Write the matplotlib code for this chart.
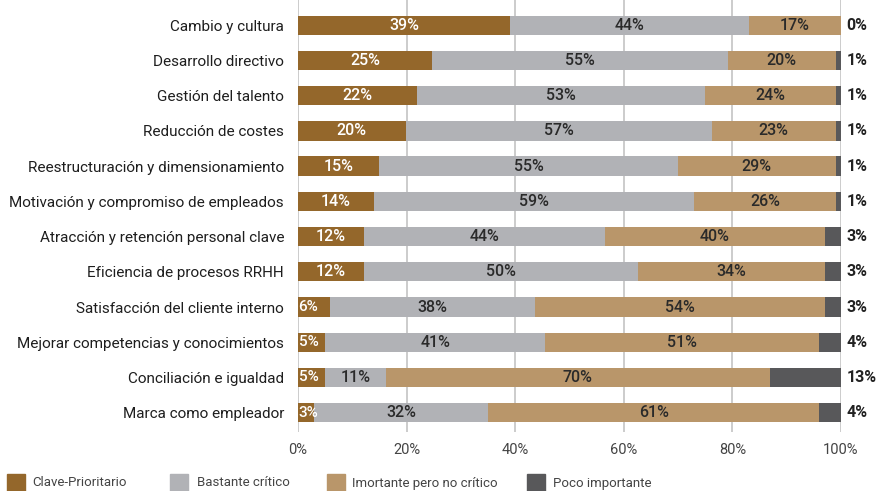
import numpy as np
import matplotlib.pyplot as plt
from matplotlib.patches import Rectangle

plt.rcParams['font.family'] = ['Roboto', 'DejaVu Sans']

categorias = ['Cambio y cultura', 'Desarrollo directivo', 'Gestión del talento',
              'Reducción de costes', 'Reestructuración y dimensionamiento',
              'Motivación y compromiso de empleados', 'Atracción y retención personal clave',
              'Eficiencia de procesos RRHH', 'Satisfacción del cliente interno',
              'Mejorar competencias y conocimientos', 'Conciliación e igualdad',
              'Marca como empleador']

clave      = [39, 25, 22, 20, 15, 14, 12, 12, 6, 5, 5, 3]
bastante   = [44, 55, 53, 57, 55, 59, 44, 50, 38, 41, 11, 32]
importante = [17, 20, 24, 23, 29, 26, 40, 34, 54, 51, 70, 61]
poco       = [0, 1, 1, 1, 1, 1, 3, 3, 3, 4, 13, 4]

series  = ['Clave-Prioritario', 'Bastante crítico', 'Imortante pero no crítico', 'Poco importante']
colores = ['#94672B', '#B1B2B6', '#B9966A', '#58585A']
texto   = ['white', '#2A2A2A', '#2A2A2A', None]

fig = plt.figure(figsize=(8.78, 4.91), dpi=100)
ax = fig.add_axes([298 / 878, 1 - 432 / 491, 543 / 878, 432 / 491])

datos = np.array([clave, bastante, importante, poco], dtype=float)
norm  = datos / datos.sum(axis=0) * 100
y = np.arange(len(categorias))

izq = np.zeros(len(categorias))
for i in range(4):
    ax.barh(y, norm[i], left=izq, height=0.55, color=colores[i], zorder=3)
    if texto[i] is not None:
        for j in range(len(categorias)):
            v = datos[i, j]
            if v < 7:
                ax.text(izq[j] + 0.1, y[j], f'{v:.0f}%', ha='left', va='center',
                        color=texto[i], fontsize=11, fontweight='medium', zorder=4)
            else:
                ax.text(izq[j] + norm[i, j] / 2, y[j], f'{v:.0f}%', ha='center', va='center',
                        color=texto[i], fontsize=11.5, fontweight='medium', zorder=4)
    izq += norm[i]

# etiquetas de "Poco importante" fuera de la barra
for j in range(len(categorias)):
    ax.text(101.0, y[j], f'{poco[j]}%', ha='left', va='center',
            color='#222222', fontsize=11.5, fontweight='bold', clip_on=False)

ax.set_xlim(0, 100)
ax.set_ylim(11.55, -0.72)
ax.set_xticks(np.arange(0, 101, 20))
ax.set_xticklabels([f'{t}%' for t in range(0, 101, 20)], fontsize=10.5, color='#444444')
ax.set_yticks(y)
ax.set_yticklabels(categorias, fontsize=11, color='#1E1E1E')
ax.tick_params(axis='both', length=0)
ax.tick_params(axis='y', pad=10)
ax.tick_params(axis='x', pad=8)
ax.grid(axis='x', color='#C4C4C4', linewidth=1.2, zorder=0)
for s in ax.spines.values():
    s.set_visible(False)

# leyenda
leg_x   = [7, 170, 327, 527]
leg_txt = [32, 197, 352, 553]
for i in range(4):
    fig.patches.append(Rectangle((leg_x[i] / 878, 0), 18 / 878, 17 / 491,
                                 transform=fig.transFigure, color=colores[i], figure=fig))
    fig.text(leg_txt[i] / 878, 8 / 491, series[i], ha='left', va='center',
             fontsize=9.5, color='#444444')

fig.savefig('out.png', dpi=100)
